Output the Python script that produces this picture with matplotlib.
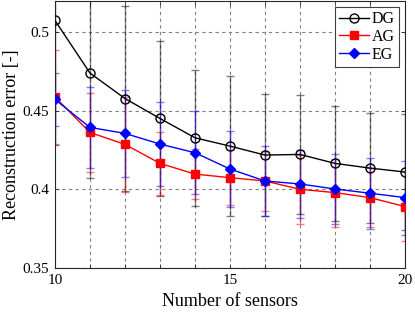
import numpy as np
import matplotlib
matplotlib.use("Agg")
from matplotlib import pyplot as plt

# Data
n_sensors = [10, 11, 12, 13, 14, 15, 16, 17, 18, 19, 20]

dg_mean = [0.5076, 0.4741, 0.4579, 0.4452, 0.4329, 0.4276, 0.4219, 0.4223, 0.4166, 0.4136, 0.4111]
dg_std = [0.079, 0.067, 0.0588, 0.0491, 0.0434, 0.0446, 0.0389, 0.0381, 0.0364, 0.0351, 0.0368]

ag_mean = [0.4589, 0.4363, 0.4287, 0.4166, 0.4098, 0.4075, 0.4054, 0.4001, 0.3980, 0.3948, 0.3891]
ag_std = [0.0302, 0.0251, 0.0303, 0.0203, 0.0159, 0.0175, 0.0190, 0.0220, 0.0216, 0.0190, 0.0220]

eg_mean = [0.4573, 0.4395, 0.4357, 0.4289, 0.4234, 0.4130, 0.4054, 0.4035, 0.4003, 0.3976, 0.3948]
eg_std = [0.0167, 0.0260, 0.0279, 0.0270, 0.0264, 0.0243, 0.0225, 0.0214, 0.0222, 0.0225, 0.0235]

series = [
    ("DG", dg_mean, dg_std, "black", "o", "none", 6.5),
    ("AG", ag_mean, ag_std, "red", "s", "red", 5.5),
    ("EG", eg_mean, eg_std, "blue", "D", "blue", 5.5),
]

plt.rcParams['font.family'] = ['Liberation Serif', 'DejaVu Serif']
plt.rcParams['font.size'] = 11

fig = plt.figure(figsize=(4.15, 3.13), dpi=100)
ax = fig.add_axes([0.1325, 0.1438, 0.8435, 0.8530])

for name, mean, std, color, marker, face, ms in series:
    # error bars first, semi transparent like the reference
    ax.errorbar(n_sensors, mean, yerr=std, fmt='none', ecolor=color,
                elinewidth=1.0, capsize=3, capthick=1.0, alpha=0.5, zorder=2)
    ax.plot(n_sensors, mean, color=color, marker=marker, markerfacecolor=face,
            markeredgecolor=color, markersize=ms, linewidth=1.0, label=name, zorder=3)

ax.set_xlim(10, 20)
ax.set_ylim(0.35, 0.52)
ax.set_xticks(n_sensors)
ax.set_xticklabels([str(v) if v in (10, 15, 20) else '' for v in n_sensors])
ax.set_yticks([0.35, 0.4, 0.45, 0.5])
ax.set_yticklabels(['0.35', '0.4', '0.45', '0.5'])

ax.grid(True, linestyle=(0, (3, 3)), color='#808080', linewidth=0.8)
ax.set_axisbelow(True)
ax.tick_params(direction='in', length=3, width=0.6, colors='#262626', labelcolor='black',
               top=True, right=True, labelsize=11, pad=4)
for sp in ax.spines.values():
    sp.set_color('#262626')
    sp.set_linewidth(0.8)

ax.set_xlabel('Number of sensors', fontsize=13, labelpad=5)
ax.set_ylabel('Reconstruction error [-]', fontsize=13, labelpad=2)

leg = ax.legend(loc='upper right', fontsize=11.5, frameon=True, fancybox=False,
                edgecolor='#404040', framealpha=1, borderpad=0.25, labelspacing=0.1,
                handlelength=1.9, handletextpad=0.15, borderaxespad=0.4)
leg.get_frame().set_linewidth(0.8)

fig.savefig('out.png', dpi=100)
